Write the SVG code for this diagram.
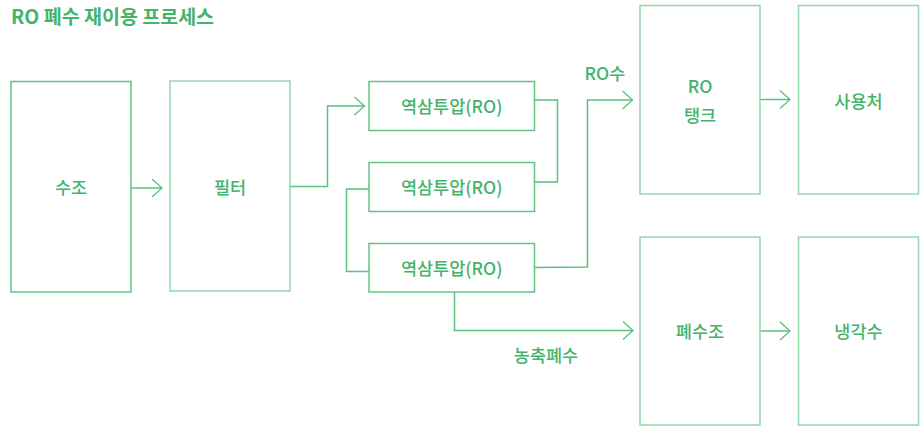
<svg xmlns="http://www.w3.org/2000/svg" width="920" height="426" viewBox="0 0 920 426">
<defs>
<style>
text{font-family:"Noto Sans CJK KR","Noto Sans",sans-serif;fill:#45b36c;font-size:17.5px;font-weight:500;text-anchor:middle;dominant-baseline:central}
.title{font-size:19.5px;font-weight:700;text-anchor:start}
.box{fill:#fff;stroke:#62c386;stroke-width:1.5}
.boxl{fill:#fff;stroke:#92d7ab;stroke-width:1.5}
.conn{fill:none;stroke:#5cbf80;stroke-width:1.5}
</style>
<marker id="arr" markerWidth="12" markerHeight="20" refX="11" refY="10" orient="auto" markerUnits="userSpaceOnUse">
<path d="M1,1 L11,10 L1,19" fill="none" stroke="#5cbf80" stroke-width="1.3"/>
</marker>
</defs>
<rect width="920" height="426" fill="#fff"/>
<text class="title" x="11" y="15.5">RO 폐수 재이용 프로세스</text>
<g id="connectors">
<path class="conn" d="M131,188 H162" marker-end="url(#arr)"/>
<path class="conn" d="M290,186.5 H327.5 V106 H364.5" marker-end="url(#arr)"/>
<path class="conn" d="M534.5,100 H557.5 V182 H534.5"/>
<path class="conn" d="M369,189 H346.5 V271.5 H369"/>
<path class="conn" d="M534.5,267.5 L587.5,267 V100 H632.5" marker-end="url(#arr)"/>
<path class="conn" d="M454.5,292 V330.5 H633" marker-end="url(#arr)"/>
<path class="conn" d="M760,99.5 H790" marker-end="url(#arr)"/>
<path class="conn" d="M760,331 H790" marker-end="url(#arr)"/>
<text x="605" y="72">RO수</text>
<text x="546" y="354.5">농축폐수</text>
</g>
<g id="n-sujo"><rect class="box" x="11" y="81.5" width="120" height="210.5"/><text x="71" y="186.5">수조</text></g>
<g id="n-filter"><rect class="boxl" x="170" y="81" width="120" height="210"/><text x="230" y="186.5">필터</text></g>
<g id="n-ro1"><rect class="box" x="369" y="81.5" width="165.5" height="49"/><text x="451.7" y="105.5">역삼투압(RO)</text></g>
<g id="n-ro2"><rect class="box" x="369" y="162.5" width="165.5" height="49"/><text x="451.7" y="186.5">역삼투압(RO)</text></g>
<g id="n-ro3"><rect class="box" x="369" y="243.5" width="165.5" height="48.5"/><text x="451.7" y="267.5">역삼투압(RO)</text></g>
<g id="n-rotank"><rect class="boxl" x="640" y="5.5" width="120" height="188.5"/><text x="700" y="85.5">RO</text><text x="700" y="114.5">탱크</text></g>
<g id="n-use"><rect class="boxl" x="798.5" y="5.5" width="120" height="188.5"/><text x="858.5" y="100.5">사용처</text></g>
<g id="n-waste"><rect class="boxl" x="640" y="237" width="120" height="188"/><text x="700" y="330.5">폐수조</text></g>
<g id="n-cool"><rect class="boxl" x="798.5" y="237" width="120" height="188"/><text x="858.5" y="330.5">냉각수</text></g>
</svg>
